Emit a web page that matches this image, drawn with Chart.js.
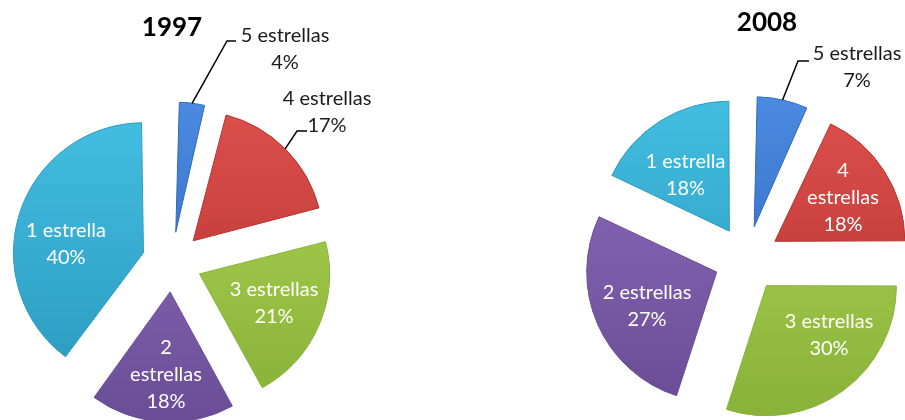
<!DOCTYPE html>
<html>
<head>
<meta charset="utf-8">
<script src="https://cdn.jsdelivr.net/npm/chart.js@4.4.1/dist/chart.umd.min.js"></script>
<style>
  body { margin: 0; background: #fff; }
  #wrap { position: relative; width: 905px; height: 420px; overflow: hidden; }
  #wrap canvas { position: absolute; left: 0; top: 0; }
</style>
</head>
<body>
<div id="wrap">
  <canvas id="pie1997" width="905" height="420"></canvas>
  <canvas id="pie2008" width="905" height="420"></canvas>
</div>
<script>
// data
const categories = ['5 estrellas', '4 estrellas', '3 estrellas', '2 estrellas', '1 estrella'];
const years = ['1997', '2008'];
const share1997 = [4, 17, 21, 18, 40];
const share2008 = [7, 18, 30, 27, 18];

// slice colours (blue, red, green, purple, aqua), light top -> dark bottom
const sliceLight = ['#4a8ae0', '#dc4f4b', '#a9d152', '#8a69b9', '#42bde0'];
const sliceDark  = ['#3169bd', '#b5332f', '#88b238', '#6a4d96', '#2c9bc0'];

const W = 905, H = 420, R = 130;

// where each pie sits and where its labels go (relative to the pie centre)
const pies = [
  {
    id: 'pie1997', title: years[0], values: share1997,
    center: [172, 262], explode: 30, titleAt: [0, -234],
    labels: [
      { at: [113, -212.5], outside: true, leader: [[-58, -8.5], [-49, -8.5]] },
      { at: [155, -149.5], outside: true, leader: [[-30, 18.5], [-20, 18.5]] },
      { at: [102, 41.5] },
      { at: [-6, 113], stack: true },
      { at: [-106, -17.5] }
    ]
  },
  {
    id: 'pie2008', title: years[1], values: share2008,
    center: [747, 259], explode: 33, titleAt: [20, -236],
    labels: [
      { at: [110, -191.5], outside: true, leader: [[-59, -6.5], [-48, -6.5]] },
      { at: [96, -61], stack: true },
      { at: [82, 76] },
      { at: [-100, 47.5] },
      { at: [-61.5, -84] }
    ]
  }
];

// v4 arcs grow their radius a bit when offset, keep all slices at R
const explodeFix = {
  id: 'explodeFix',
  beforeDatasetsDraw(chart) {
    chart.getDatasetMeta(0).data.forEach(arc => {
      const o = (arc.options.offset || 0) / 4;
      const circ = arc.endAngle - arc.startAngle;
      const fix = 1 - Math.sin(Math.min(Math.PI, circ));
      arc.outerRadius = R - o * fix;
    });
  }
};

const sliceLabels = {
  id: 'sliceLabels',
  afterDatasetsDraw(chart, args, opts) {
    const ctx = chart.ctx;
    const meta = chart.getDatasetMeta(0);
    const values = chart.data.datasets[0].data;
    const lineH = 27;
    ctx.save();
    ctx.textAlign = 'center';
    ctx.textBaseline = 'middle';

    opts.labels.forEach((lab, i) => {
      const arc = meta.data[i];
      const name = chart.data.labels[i];
      const lines = lab.stack ? name.split(' ') : [name];
      lines.push(values[i] + '%');
      const cx = arc.x + lab.at[0];
      const cy = arc.y + lab.at[1];
      const top = cy - (lines.length - 1) * lineH / 2;

      ctx.font = '20px Lato';
      ctx.fillStyle = lab.outside ? '#1a1a1a' : '#ffffff';
      lines.forEach((t, k) => ctx.fillText(t, cx, top + k * lineH));

      if (lab.leader) {
        const mid = (arc.startAngle + arc.endAngle) / 2;
        const reach = opts.explode + R;
        ctx.beginPath();
        ctx.moveTo(arc.x + Math.cos(mid) * reach, arc.y + Math.sin(mid) * reach);
        lab.leader.forEach(p => ctx.lineTo(cx + p[0], cy + p[1]));
        ctx.strokeStyle = '#000';
        ctx.lineWidth = 1.5;
        ctx.stroke();
      }
    });

    // chart title
    const c0 = meta.data[0];
    ctx.font = 'bold 26px Lato';
    ctx.fillStyle = '#000';
    ctx.fillText(opts.title, c0.x + opts.titleAt[0], c0.y + opts.titleAt[1]);
    ctx.restore();
  }
};

function sliceFill(c) {
  const area = c.chart.chartArea;
  const i = c.dataIndex;
  if (!area) return sliceDark[i];
  const cy = (area.top + area.bottom) / 2;
  const g = c.chart.ctx.createLinearGradient(0, cy - R, 0, cy + R);
  g.addColorStop(0, sliceLight[i]);
  g.addColorStop(1, sliceDark[i]);
  return g;
}

pies.forEach(p => {
  const ctx = document.getElementById(p.id).getContext('2d');
  new Chart(ctx, {
    type: 'pie',
    data: {
      labels: categories,
      datasets: [{
        data: p.values,
        backgroundColor: sliceFill,
        borderColor: sliceDark,
        borderWidth: 1,
        offset: p.explode * 4,
        clip: false
      }]
    },
    options: {
      responsive: false,
      animation: false,
      radius: R,
      layout: {
        padding: {
          left: Math.max(0, 2 * p.center[0] - W),
          right: Math.max(0, W - 2 * p.center[0]),
          top: Math.max(0, 2 * p.center[1] - H),
          bottom: Math.max(0, H - 2 * p.center[1])
        }
      },
      plugins: {
        legend: { display: false },
        tooltip: { enabled: false },
        sliceLabels: { labels: p.labels, title: p.title, titleAt: p.titleAt, explode: p.explode }
      }
    },
    plugins: [explodeFix, sliceLabels]
  });
});
</script>
</body>
</html>
